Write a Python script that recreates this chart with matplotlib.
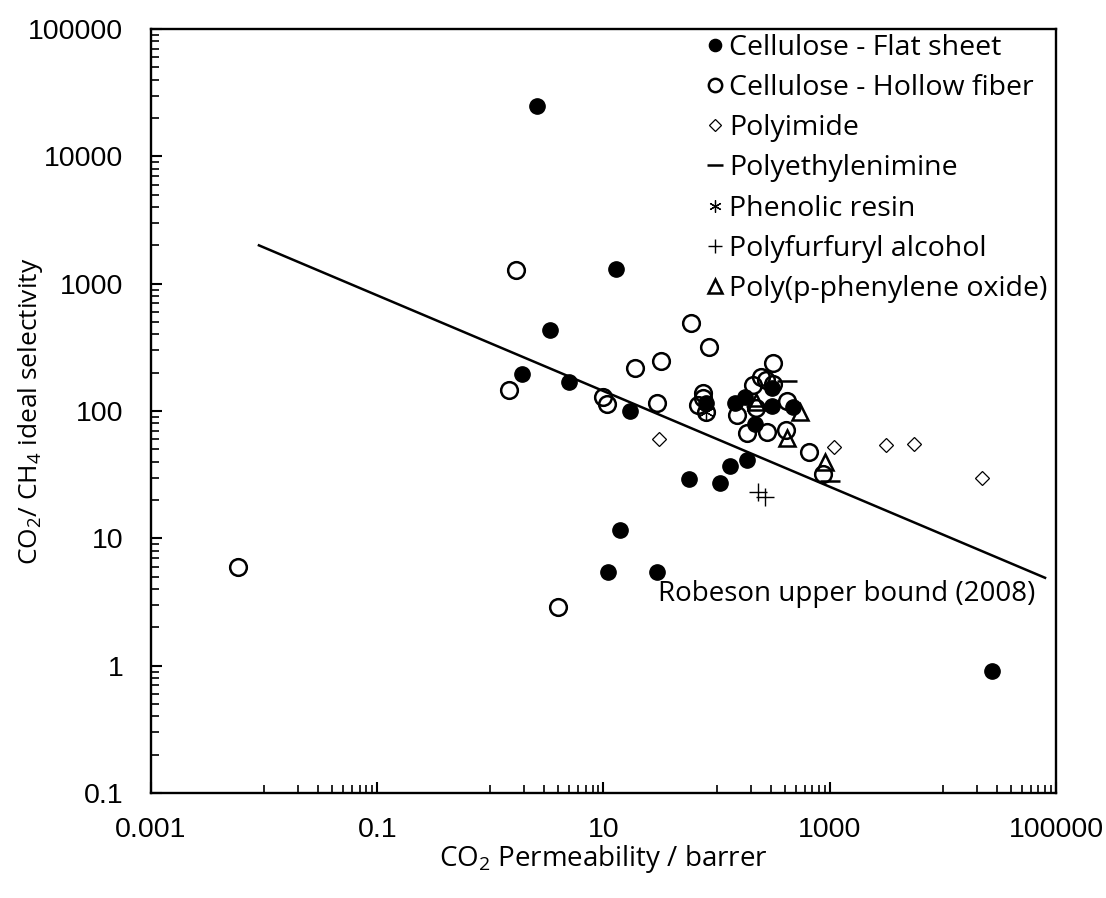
import numpy as np
import matplotlib
matplotlib.use("Agg")
import matplotlib.pyplot as plt
from matplotlib.ticker import FixedLocator, NullFormatter

plt.rcParams['font.family'] = ['Open Sans', 'DejaVu Sans']
plt.rcParams['mathtext.default'] = 'regular'

# Cellulose - Flat sheet (filled circles)
flat_x = [2.6, 13, 3.4, 1.9, 5.0, 17, 57, 107, 130, 185, 14, 11, 30, 27000,
          80, 146, 180, 220, 310, 310, 475]
flat_y = [25000, 1300, 430, 195, 168, 100, 29, 27, 37, 41, 11.6, 5.4, 5.4, 0.91,
          115, 116, 130, 79, 110, 152, 108]

# Cellulose - Hollow fiber (open circles)
hollow_x = [0.0059, 1.7, 1.45, 10, 10.7, 19, 32, 30, 59, 86, 4.0,
            76, 76, 68, 80, 315, 245, 275, 315, 210, 150, 225, 185, 280,
            410, 420, 660, 880]
hollow_y = [6, 1280, 145, 130, 114, 217, 248, 116, 490, 317, 2.9,
            139, 127, 112, 98, 240, 186, 175, 163, 160, 93, 105, 67, 69,
            71, 119, 48, 32]

polyimide_x = [31, 1090, 3150, 5600, 22000]
polyimide_y = [60, 52, 54, 55, 30]

pei_x = [420, 223, 1000]
pei_y = [173, 110, 28]

phenolic_x = [80]
phenolic_y = [98]

pfa_x = [230, 270]
pfa_y = [23, 21]

ppo_x = [223, 550, 420, 910]
ppo_y = [118, 99, 61, 40]

robeson_x = [0.009, 80000]
robeson_y = [2000, 4.9]

fig = plt.figure(figsize=(11.06, 8.98), dpi=100)
ax = fig.add_axes([0.1365, 0.1169, 0.8183, 0.8508])

ax.plot(robeson_x, robeson_y, color='black', lw=1.8, zorder=2)

ax.plot(hollow_x, hollow_y, 'o', ms=12, mfc='none', mec='black', mew=1.8,
        label='Cellulose - Hollow fiber', zorder=3)
ax.plot(flat_x, flat_y, 'o', ms=11, mfc='black', mec='black',
        label='Cellulose - Flat sheet', zorder=4)
ax.plot(polyimide_x, polyimide_y, 'D', ms=7.5, mfc='none', mec='black', mew=0.9,
        label='Polyimide', zorder=4)
ax.plot(pei_x, pei_y, '_', ms=14, mec='black', mew=1.8,
        label='Polyethylenimine', zorder=4)
ax.plot(phenolic_x, phenolic_y, marker=(6, 2, 0), ls='none', ms=11,
        mec='black', mew=0.9, label='Phenolic resin', zorder=4)
ax.plot(pfa_x, pfa_y, '+', ms=13, mec='black', mew=1.0,
        label='Polyfurfuryl alcohol', zorder=4)
ax.plot(ppo_x, ppo_y, '^', ms=12, mfc='none', mec='black', mew=1.8,
        label='Poly(p-phenylene oxide)', zorder=4)

ax.set_xscale('log')
ax.set_yscale('log')
ax.set_xlim(0.001, 100000)
ax.set_ylim(0.1, 100000)

xmaj = [0.001, 0.1, 10, 1000, 100000]
ax.xaxis.set_major_locator(FixedLocator(xmaj))
ax.set_xticklabels(['0.001', '0.1', '10', '1000', '100000'])
xmin = [m * 10 * k for m in xmaj[:-1] for k in range(1, 10)]
ax.xaxis.set_minor_locator(FixedLocator(xmin))
ax.xaxis.set_minor_formatter(NullFormatter())

ymaj = [0.1, 1, 10, 100, 1000, 10000, 100000]
ax.yaxis.set_major_locator(FixedLocator(ymaj))
ax.set_yticklabels(['0.1', '1', '10', '100', '1000', '10000', '100000'])
ymin = [m * k for m in ymaj[:-1] for k in range(2, 10)]
ax.yaxis.set_minor_locator(FixedLocator(ymin))
ax.yaxis.set_minor_formatter(NullFormatter())

ax.tick_params(which='major', direction='in', length=8, width=1.5,
               labelsize=20.5)
ax.tick_params(axis='x', which='major', pad=17)
ax.tick_params(axis='y', which='major', pad=20)
ax.tick_params(which='minor', direction='in', length=5.5, width=1.2)
for lab in ax.get_xticklabels() + ax.get_yticklabels():
    lab.set_fontfamily('Liberation Sans')
for s in ax.spines.values():
    s.set_linewidth(1.7)

ax.set_xlabel('CO$_2$ Permeability / barrer', fontsize=20)
ax.xaxis.set_label_coords(0.5, -0.087)
ax.xaxis.label.set_va('center')
ax.set_ylabel('CO$_2$/ CH$_4$ ideal selectivity', fontsize=19)
ax.yaxis.set_label_coords(-0.117, 0.5)

ax.text(1400, 3.65, 'Robeson upper bound (2008)', fontsize=20,
        ha='center', va='center')

handles, labels = ax.get_legend_handles_labels()
order = [1, 0, 2, 3, 4, 5, 6]
ax.legend([handles[i] for i in order], [labels[i] for i in order],
          loc='upper right', bbox_to_anchor=(1.0, 1.005), frameon=False,
          fontsize=20.5, markerscale=0.8, handlelength=0.5, handletextpad=0.25,
          labelspacing=0.43, borderaxespad=0.0, borderpad=0.3)

fig.savefig('out.png', dpi=100)
